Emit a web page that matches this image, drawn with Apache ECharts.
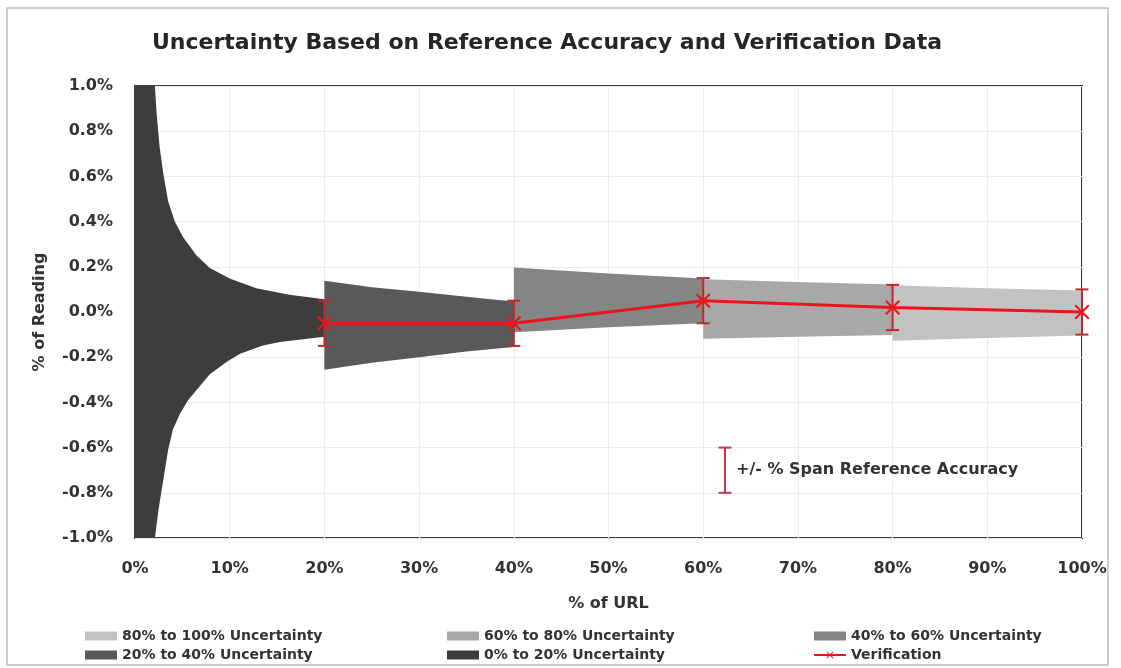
<!DOCTYPE html>
<html>
<head>
<meta charset="utf-8">
<script src="https://cdn.jsdelivr.net/npm/echarts@6/dist/echarts.min.js"></script>
<style>
  html, body { margin: 0; padding: 0; background: #fff; }
  #chart { width: 1121px; height: 668px; }
</style>
</head>
<body>
<div id="chart"></div>
<script>
// ----------data----------
// verification points (% of URL, % of reading) and span reference accuracy (+/-)
const urlPct = [20, 40, 60, 80, 100];
const verification = [-0.05, -0.05, 0.05, 0.02, 0.0];
const spanAccuracy = [0.1, 0.1, 0.1, 0.1, 0.1];

// uncertainty envelopes: [x %, y %]
const band0to20Upper = [[0, 1.0], [2.1, 1.0], [2.3, 0.87], [2.6, 0.73], [3.0, 0.61], [3.5, 0.49], [4.2, 0.40],
  [5.1, 0.33], [6.5, 0.25], [7.9, 0.195], [10.0, 0.148], [12.8, 0.105], [16.3, 0.076], [20, 0.056]];
const band0to20Lower = [[0, -1.0], [2.1, -1.0], [2.5, -0.87], [3.0, -0.74], [3.5, -0.61], [4.0, -0.52], [4.75, -0.45],
  [5.6, -0.39], [6.9, -0.325], [7.9, -0.275], [9.7, -0.22], [11.1, -0.185], [13.5, -0.148], [15.3, -0.133], [20, -0.11]];
const band20to40Upper = [[20, 0.138], [25, 0.11], [30, 0.09], [35, 0.068], [40, 0.047]];
const band20to40Lower = [[20, -0.255], [25, -0.225], [30, -0.2], [35, -0.175], [40, -0.155]];
const band40to60Upper = [[40, 0.197], [50, 0.17], [60, 0.148]];
const band40to60Lower = [[40, -0.09], [50, -0.068], [60, -0.05]];
const band60to80Upper = [[60, 0.145], [70, 0.133], [80, 0.122]];
const band60to80Lower = [[60, -0.118], [70, -0.11], [80, -0.102]];
const band80to100Upper = [[80, 0.118], [90, 0.105], [100, 0.095]];
const band80to100Lower = [[80, -0.127], [90, -0.115], [100, -0.104]];

// legend sample for the accuracy bar: [x %, y %, +/-]
const accuracyNote = [[62.3, -0.7, 0.1]];
// ------------------------

const FONT = 'DejaVu Sans';
const TXT = '#333333';

const chart = echarts.init(document.getElementById('chart'));

// filled envelope between an upper and a lower curve
const bandSeries = (name, color, upper, lower) => ({
  name,
  type: 'custom',
  coordinateSystem: 'cartesian2d',
  silent: true,
  z: 2,
  itemStyle: { color },
  encode: { x: 0, y: 1 },
  data: upper,
  renderItem: (params, api) => {
    if (params.dataIndex !== 0) return;
    const pts = upper.concat(lower.slice().reverse()).map((p) => api.coord(p));
    return { type: 'polygon', shape: { points: pts }, style: { fill: color } };
  },
});

// vertical error bar with caps
const errorBar = (api, color) => {
  const x = api.value(0);
  const y = api.value(1);
  const e = api.value(2);
  const top = api.coord([x, y + e]);
  const bot = api.coord([x, y - e]);
  const w = 6.5;
  const style = { stroke: color, lineWidth: 2 };
  return [
    { type: 'line', shape: { x1: top[0], y1: top[1], x2: bot[0], y2: bot[1] }, style },
    { type: 'line', shape: { x1: top[0] - w, y1: top[1], x2: top[0] + w, y2: top[1] }, style },
    { type: 'line', shape: { x1: bot[0] - w, y1: bot[1], x2: bot[0] + w, y2: bot[1] }, style },
  ];
};

const xMark = 'path://M0,2 L2,0 L10,8 L18,0 L20,2 L12,10 L20,18 L18,20 L10,12 L2,20 L0,18 L8,10 Z';

const legendText = { fontFamily: FONT, fontWeight: 'bold', fontSize: 14, color: TXT };
const legendBase = {
  orient: 'vertical',
  top: 629,
  padding: 0,
  itemGap: 5,
  itemWidth: 32,
  itemHeight: 9,
  textStyle: legendText,
  selectedMode: false,
};

const option = {
  animation: false,
  backgroundColor: '#ffffff',
  title: {
    text: 'Uncertainty Based on Reference Accuracy and Verification Data',
    left: 547,
    top: 32,
    padding: 0,
    textAlign: 'center',
    textStyle: { fontFamily: FONT, fontWeight: 'bold', fontSize: 22, color: '#262626' },
  },
  grid: {
    left: 135,
    right: 39,
    top: 86,
    bottom: 130,
    show: true,
    borderColor: '#3a3a3a',
    borderWidth: 2,
  },
  legend: [
    { ...legendBase, left: 85, data: [{ name: '80% to 100% Uncertainty', icon: 'rect' }, { name: '20% to 40% Uncertainty', icon: 'rect' }] },
    { ...legendBase, left: 447, data: [{ name: '60% to 80% Uncertainty', icon: 'rect' }, { name: '0% to 20% Uncertainty', icon: 'rect' }] },
    { ...legendBase, left: 813, data: [{ name: '40% to 60% Uncertainty', icon: 'rect' }, { name: 'Verification' }] },
  ],
  xAxis: {
    type: 'value',
    min: 0,
    max: 100,
    interval: 10,
    name: '% of URL',
    nameLocation: 'middle',
    nameGap: 58,
    nameTextStyle: { fontFamily: FONT, fontWeight: 'bold', fontSize: 16, color: TXT },
    axisLine: { show: false },
    axisTick: { show: false },
    axisLabel: {
      margin: 23,
      fontFamily: FONT,
      fontWeight: 'bold',
      fontSize: 16,
      color: TXT,
      formatter: (v) => v + '%',
    },
    splitLine: { show: true, lineStyle: { color: '#ebebeb', width: 1 } },
  },
  yAxis: {
    type: 'value',
    min: -1,
    max: 1,
    interval: 0.2,
    name: '% of Reading',
    nameLocation: 'middle',
    nameGap: 87,
    nameTextStyle: { fontFamily: FONT, fontWeight: 'bold', fontSize: 16, color: TXT },
    axisLine: { show: false },
    axisTick: { show: false },
    axisLabel: {
      margin: 22,
      fontFamily: FONT,
      fontWeight: 'bold',
      fontSize: 16,
      color: TXT,
      formatter: (v) => (Math.abs(v) < 1e-9 ? 0 : v).toFixed(1) + '%',
    },
    splitLine: { show: true, lineStyle: { color: '#ebebeb', width: 1 } },
  },
  series: [
    bandSeries('0% to 20% Uncertainty', '#3d3d3d', band0to20Upper, band0to20Lower),
    bandSeries('20% to 40% Uncertainty', '#595959', band20to40Upper, band20to40Lower),
    bandSeries('40% to 60% Uncertainty', '#858585', band40to60Upper, band40to60Lower),
    bandSeries('60% to 80% Uncertainty', '#a8a8a8', band60to80Upper, band60to80Lower),
    bandSeries('80% to 100% Uncertainty', '#c2c2c2', band80to100Upper, band80to100Lower),
    {
      name: 'verificationError',
      type: 'custom',
      coordinateSystem: 'cartesian2d',
      silent: true,
      z: 3,
      encode: { x: 0, y: 1 },
      data: urlPct.map((x, i) => [x, verification[i], spanAccuracy[i]]),
      renderItem: (params, api) => ({ type: 'group', children: errorBar(api, '#c1272d') }),
    },
    {
      name: 'Verification',
      type: 'line',
      z: 4,
      data: urlPct.map((x, i) => [x, verification[i]]),
      symbol: xMark,
      symbolSize: 15,
      itemStyle: { color: '#e8161c' },
      lineStyle: { color: '#e8161c', width: 3 },
    },
    {
      name: 'accuracyNote',
      type: 'custom',
      coordinateSystem: 'cartesian2d',
      silent: true,
      z: 3,
      encode: { x: 0, y: 1 },
      data: accuracyNote,
      renderItem: (params, api) => {
        const c = api.coord([api.value(0), api.value(1)]);
        return {
          type: 'group',
          children: errorBar(api, '#c0394a').concat([
            {
              type: 'text',
              x: c[0] + 11,
              y: c[1],
              style: {
                text: '+/- % Span Reference Accuracy',
                fontFamily: FONT,
                fontWeight: 'bold',
                fontSize: 16,
                fill: TXT,
                verticalAlign: 'middle',
              },
            },
          ]),
        };
      },
    },
  ],
  graphic: [
    {
      type: 'rect',
      silent: true,
      shape: { x: 7, y: 8, width: 1101, height: 657 },
      style: { fill: 'none', stroke: '#bdbdbd', lineWidth: 1.5 },
    },
  ],
};

chart.setOption(option);
</script>
</body>
</html>
